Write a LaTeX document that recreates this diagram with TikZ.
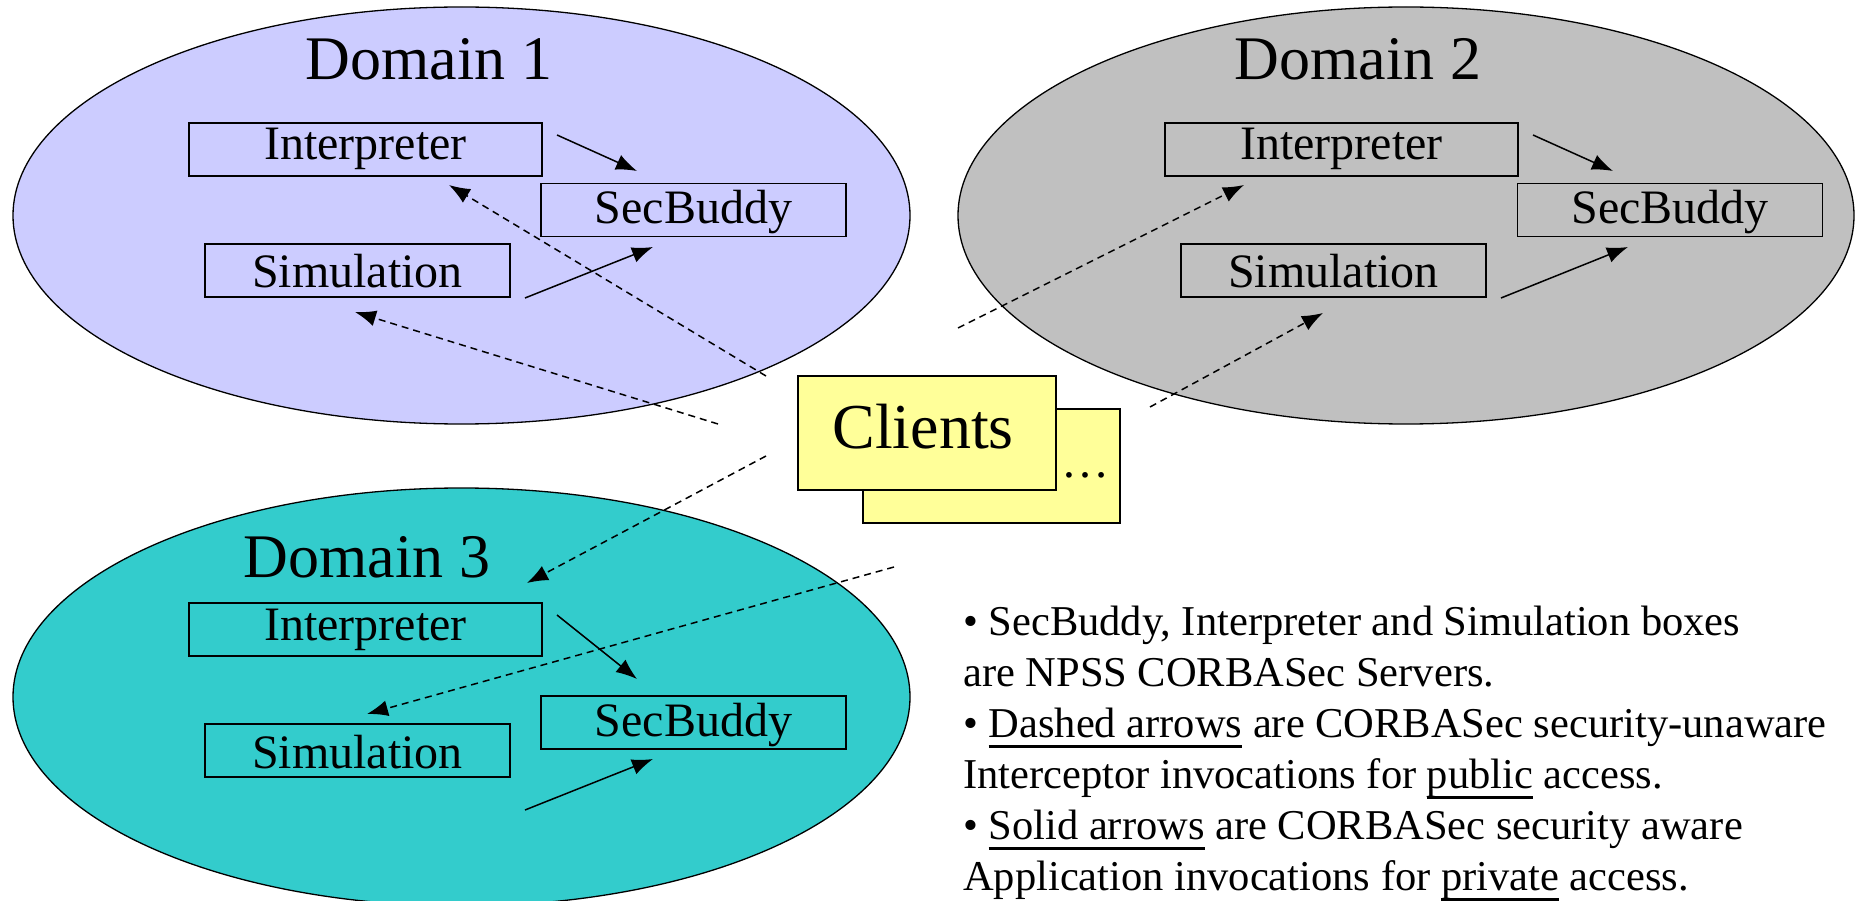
\documentclass[tikz,border=0pt]{standalone}
\usepackage{fontspec}
\setmainfont{Liberation Serif}
\usepackage{tikz}
\usetikzlibrary{arrows.meta}

\definecolor{domlav}{HTML}{CCCCFF}
\definecolor{domgray}{HTML}{C0C0C0}
\definecolor{domteal}{HTML}{33CCCC}
\definecolor{cliyel}{HTML}{FFFF99}

\newcommand{\domfont}{\fontsize{62}{70}\selectfont}
\newcommand{\clifont}{\fontsize{64}{72}\selectfont}
\newcommand{\boxfont}{\fontsize{48}{54}\selectfont}
\newcommand{\notefont}{\fontsize{42.5}{51}\selectfont}
% underline at a fixed depth, through the descenders
\newcommand{\uln}[1]{\setbox0\hbox{#1}\rlap{\rule[-10pt]{\wd0}{2.6pt}}\box0\relax}

\tikzset{
	box/.style={draw, line width=1.6pt, inner sep=0pt, minimum height=53pt, font=\boxfont},
	ibox/.style={box, minimum width=353pt, text height=37pt, text depth=16pt},
	secbox/.style={box, minimum width=305pt, text height=40pt, text depth=13pt},
	simbox/.style={box, minimum width=305pt, text height=44pt, text depth=9pt},
	dom/.style={draw, line width=1.3pt},
	clibox/.style={draw, fill=cliyel, line width=1.6pt, inner sep=0pt},
	aware/.style={-{Latex[length=21pt,width=16pt]}, line width=1.5pt},
	unaware/.style={aware, dash pattern=on 7pt off 5pt},
}

\begin{document}
\begin{tikzpicture}[x=1pt, y=-1pt]
		\useasboundingbox (0,0) rectangle (1856,901);

		% the three domains
		\draw[dom, fill=domlav]  (461.5,215.5) ellipse (448.5pt and 208.5pt);
		\draw[dom, fill=domgray] (1406,215.5)  ellipse (448pt and 208.5pt);
		\draw[dom, fill=domteal] (461.5,697)   ellipse (448.5pt and 209pt);

		\draw (429,80)  node[font=\domfont, anchor=base] (d1) {Domain 1};
		\draw (1358,80) node[font=\domfont, anchor=base] (d2) {Domain 2};
		\draw (367,577) node[font=\domfont, anchor=base] (d3) {Domain 3};

		% servers
		\draw (365.5,149.5) node[ibox]   (int1) {Interpreter};
		\draw (693.5,210)   node[secbox] (sec1) {SecBuddy};
		\draw (357.5,270.5) node[simbox] (sim1) {Simulation};

		\draw (1341.5,149.5) node[ibox]   (int2) {Interpreter};
		\draw (1670,210)     node[secbox] (sec2) {SecBuddy};
		\draw (1333.5,270.5) node[simbox] (sim2) {Simulation};

		\draw (365.5,629.5) node[ibox]   (int3) {Interpreter};
		\draw (693.5,722.5) node[secbox] (sec3) {SecBuddy};
		\draw (357.5,750.5) node[simbox] (sim3) {Simulation};

		% clients
		\draw (862,408) node[clibox, anchor=north west, minimum width=257pt, minimum height=114pt] (cli2) {};
		\draw (797,375) node[clibox, anchor=north west, minimum width=258pt, minimum height=114pt] (cli1) {};
		\draw (923,448) node[font=\clifont, anchor=base] (clitxt) {Clients};
		\draw (1085,477) node[font=\boxfont, anchor=base] (more) {\dots};

		% arrow ends
		\coordinate (a1s) at (557,135);  \coordinate (a1e) at (637,171);
		\coordinate (b1s) at (525,298);  \coordinate (b1e) at (653,247);
		\coordinate (a2s) at (1533,135); \coordinate (a2e) at (1613,171);
		\coordinate (b2s) at (1501,298); \coordinate (b2e) at (1628,247);
		\coordinate (a3s) at (557,615);  \coordinate (a3e) at (637,679);
		\coordinate (b3s) at (525,810);  \coordinate (b3e) at (653,759);

		\coordinate (c1s) at (766,376);  \coordinate (c1e) at (449,185);
		\coordinate (c2s) at (718,424);  \coordinate (c2e) at (355,312);
		\coordinate (c3s) at (958,328);  \coordinate (c3e) at (1244,185);
		\coordinate (c4s) at (1150,407); \coordinate (c4e) at (1323,313);
		\coordinate (c5s) at (766,456);  \coordinate (c5e) at (527,583);
		\coordinate (c6s) at (894,567);  \coordinate (c6e) at (367,714);

		% application invocations
		\draw[aware] (a1s) -- (a1e);
		\draw[aware] (b1s) -- (b1e);
		\draw[aware] (a2s) -- (a2e);
		\draw[aware] (b2s) -- (b2e);
		\draw[aware] (a3s) -- (a3e);
		\draw[aware] (b3s) -- (b3e);

		% interceptor invocations
		\draw[unaware] (c1s) -- (c1e);
		\draw[unaware] (c2s) -- (c2e);
		\draw[unaware] (c3s) -- (c3e);
		\draw[unaware] (c4s) -- (c4e);
		\draw[unaware] (c5s) -- (c5e);
		\draw[unaware] (c6s) -- (c6e);

		\draw (963,606) node[font=\notefont, anchor=north west, inner sep=0pt, align=left] (note) {%
			\textbullet{} SecBuddy, Interpreter and Simulation boxes\\
			are NPSS CORBASec Servers.\\
			\textbullet{} \uln{Dashed arrows} are CORBASec security-unaware\\
			Interceptor invocations for \uln{public} access.\\
			\textbullet{} \uln{Solid arrows} are CORBASec security aware\\
			Application invocations for \uln{private} access.};

	\end{tikzpicture}
\end{document}
